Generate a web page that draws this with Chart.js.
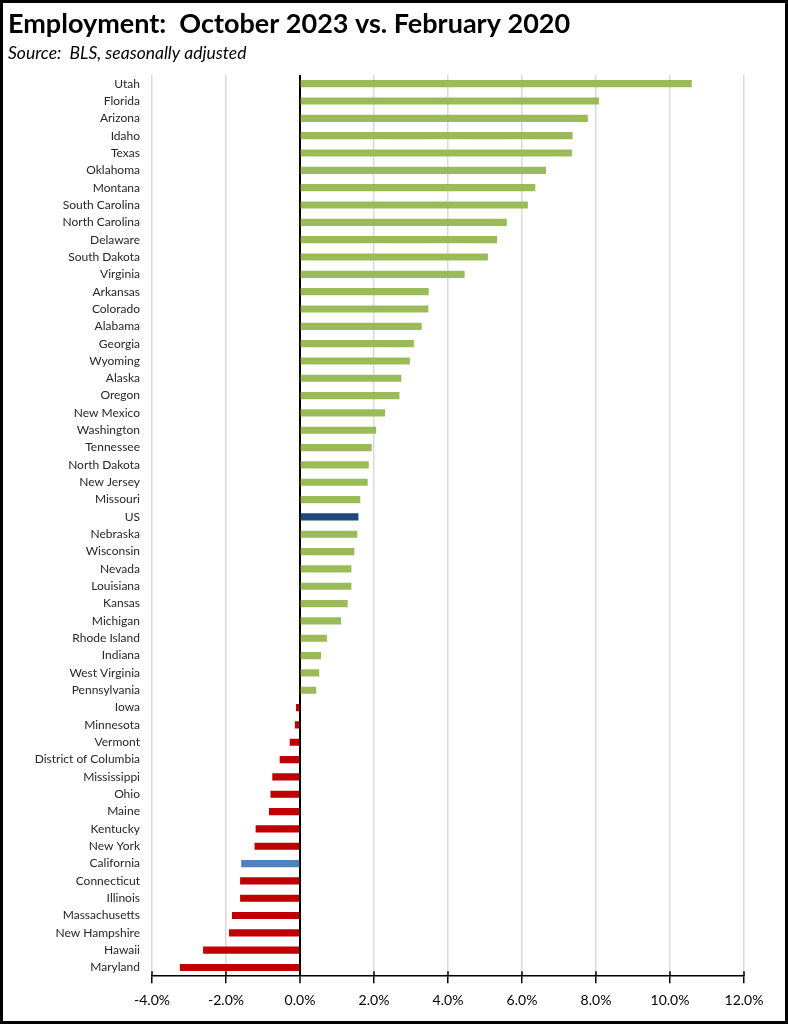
<!DOCTYPE html>
<html>
<head>
<meta charset="utf-8">
<script src="https://cdn.jsdelivr.net/npm/chart.js@4.4.0/dist/chart.umd.min.js"></script>
<style>
  html, body { margin: 0; padding: 0; background: #fff; }
  #frame {
    width: 788px; height: 1024px; box-sizing: border-box;
    border: 3px solid #000; position: relative;
  }
  #frame canvas { display: block; }
</style>
</head>
<body>
<div id="frame"><canvas id="empChart" width="782" height="1018"></canvas></div>
<script>
// Estados ordenados de mayor a menor cambio
const states = [
  'Utah', 'Florida', 'Arizona', 'Idaho', 'Texas', 'Oklahoma', 'Montana',
  'South Carolina', 'North Carolina', 'Delaware', 'South Dakota', 'Virginia',
  'Arkansas', 'Colorado', 'Alabama', 'Georgia', 'Wyoming', 'Alaska', 'Oregon',
  'New Mexico', 'Washington', 'Tennessee', 'North Dakota', 'New Jersey',
  'Missouri', 'US', 'Nebraska', 'Wisconsin', 'Nevada', 'Louisiana', 'Kansas',
  'Michigan', 'Rhode Island', 'Indiana', 'West Virginia', 'Pennsylvania',
  'Iowa', 'Minnesota', 'Vermont', 'District of Columbia', 'Mississippi',
  'Ohio', 'Maine', 'Kentucky', 'New York', 'California', 'Connecticut',
  'Illinois', 'Massachusetts', 'New Hampshire', 'Hawaii', 'Maryland'
];

// Cambio en empleo (%), octubre 2023 vs febrero 2020
const changePct = [
  10.58, 8.07, 7.77, 7.36, 7.34, 6.64, 6.35,
  6.15, 5.58, 5.32, 5.07, 4.44,
  3.47, 3.46, 3.28, 3.07, 2.96, 2.73, 2.68,
  2.29, 2.05, 1.93, 1.85, 1.82,
  1.62, 1.57, 1.54, 1.46, 1.38, 1.38, 1.28,
  1.10, 0.72, 0.56, 0.51, 0.43,
  -0.10, -0.13, -0.27, -0.54, -0.74,
  -0.79, -0.83, -1.19, -1.22, -1.58, -1.61,
  -1.61, -1.83, -1.91, -2.61, -3.24
];

// Eje x
const xMin = -4;
const xMax = 12;
const xStep = 2;

const FONT = 'Lato, "Open Sans", sans-serif';

// Colores: verde si sube, rojo si baja, azules para US y California
const barColors = states.map((s, i) => {
  if (s === 'US') return '#1F497D';
  if (s === 'California') return '#4F81BD';
  return changePct[i] >= 0 ? '#9BBB59' : '#C00000';
});

// Marcas del eje x que cruzan la línea (también hacia arriba)
const crossTicks = {
  id: 'crossTicks',
  afterDraw(chart) {
    const x = chart.scales.x;
    const c = chart.ctx;
    c.save();
    c.strokeStyle = '#000';
    c.lineWidth = 1.5;
    x.ticks.forEach(t => {
      const px = x.getPixelForValue(t.value);
      c.beginPath();
      c.moveTo(px, x.top - 5);
      c.lineTo(px, x.top);
      c.stroke();
    });
    c.restore();
  }
};

const ctx = document.getElementById('empChart');
new Chart(ctx, {
  type: 'bar',
  data: {
    labels: states,
    datasets: [{
      data: changePct,
      backgroundColor: barColors,
      borderWidth: 0,
      barThickness: 6.5
    }]
  },
  options: {
    indexAxis: 'y',
    responsive: false,
    animation: false,
    layout: {
      padding: { left: 5, right: 41, top: 0, bottom: 3 }
    },
    plugins: {
      legend: { display: false },
      tooltip: { enabled: false },
      title: {
        display: true,
        text: 'Employment:  October 2023 vs. February 2020',
        align: 'start',
        color: '#000',
        font: { family: FONT, size: 27, weight: 'bold' },
        padding: { top: 5, bottom: 2 }
      },
      subtitle: {
        display: true,
        text: 'Source:  BLS, seasonally adjusted',
        align: 'start',
        color: '#000',
        font: { family: FONT, size: 17.5, style: 'italic' },
        padding: { top: 0, bottom: 11.6 }
      }
    },
    scales: {
      x: {
        min: xMin,
        max: xMax,
        ticks: {
          stepSize: xStep,
          padding: 9,
          color: '#000',
          font: { family: FONT, size: 14 },
          callback: v => v.toFixed(1) + '%'
        },
        grid: {
          color: ctx => ctx.tick && ctx.tick.value === 0 ? '#000' : '#D9D9D9',
          lineWidth: ctx => ctx.tick && ctx.tick.value === 0 ? 2 : 1.5,
          tickColor: '#000',
          tickLength: 7,
          tickWidth: 1.5
        },
        border: { display: true, color: '#000', width: 1.5 }
      },
      y: {
        afterFit: scale => { scale.width = 144; },
        ticks: {
          autoSkip: false,
          padding: 12,
          color: '#262626',
          font: { family: FONT, size: 12 }
        },
        grid: { display: false, drawTicks: false },
        border: { display: false }
      }
    }
  },
  plugins: [crossTicks]
});
</script>
</body>
</html>
